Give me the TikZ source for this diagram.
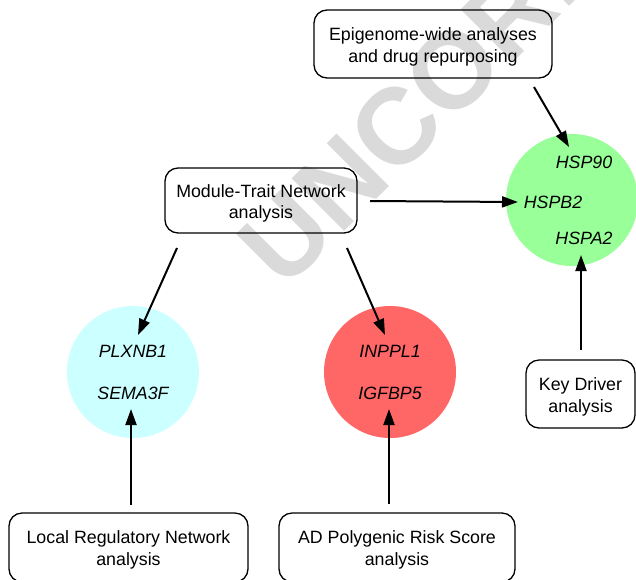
\documentclass[tikz,border=0pt]{standalone}
\usepackage{fontspec}
\setmainfont{Liberation Sans}
\usetikzlibrary{arrows.meta}
\definecolor{wmgray}{RGB}{218,218,218}
\definecolor{cyanfill}{RGB}{204,255,255}
\definecolor{redfill}{RGB}{255,102,102}
\definecolor{greenfill}{RGB}{153,255,153}
\tikzset{
  every node/.style={font=\fontsize{17.8}{21.5}\selectfont},
  infobox/.style={draw=black, line width=1.3pt, rounded corners=13pt, inner sep=0pt},
  boxtext/.style={align=center, inner sep=0pt},
  gene/.style={inner sep=0pt, font=\fontsize{17.8}{21.5}\selectfont\itshape},
  hub/.style={circle, draw=none, minimum size=132pt, inner sep=0pt},
  arr/.style={line width=2pt, -{Triangle[length=16pt,width=11pt]}},
}
\begin{document}
\begin{tikzpicture}[x=1pt, y=-1pt]
\useasboundingbox (0,0) rectangle (636,579);
\clip (0,0) rectangle (636,579);
\fill[white] (0,0) rectangle (636,579);

% background stamp
\node[rotate=45, anchor=base west, inner sep=0pt, text=wmgray,
      font=\fontsize{108}{108}\selectfont\bfseries] (stamp) at (284,292) {UNCORRECTED};

% gene clusters
\node[hub, fill=cyanfill]  (cyanhub)  at (133,372) {};
\node[hub, fill=redfill]   (redhub)   at (390,372) {};
\node[hub, fill=greenfill] (greenhub) at (572,200) {};

\node[gene] (plx)  at (133,351) {PLXNB1};
\node[gene] (sema) at (133,393) {SEMA3F};
\node[gene] (inp)  at (390,351) {INPPL1};
\node[gene] (igf)  at (390,393) {IGFBP5};
\node[gene] (hsp90) at (584,162) {HSP90};
\node[gene] (hspb2) at (553,202) {HSPB2};
\node[gene] (hspa2) at (584,238) {HSPA2};

% analysis boxes and their captions
\node[infobox, minimum width=238pt, minimum height=68pt] (epi) at (433,44) {};
\node[infobox, minimum width=192pt, minimum height=65pt] (mod) at (261,200.5) {};
\node[infobox, minimum width=109pt, minimum height=68pt] (kd) at (580.5,394) {};
\node[infobox, minimum width=239pt, minimum height=69pt] (lrn) at (128.5,547.5) {};
\node[infobox, minimum width=236pt, minimum height=69pt] (ad) at (397,547.5) {};

\node[boxtext] (epitext) at ([yshift=-3pt]epi.center) {Epigenome-wide analyses\\and drug repurposing};
\node[boxtext] (modtext) at ([yshift=-3pt]mod.center) {Module-Trait Network\\analysis};
\node[boxtext] (kdtext)  at ([yshift=-3pt]kd.center)  {Key Driver\\analysis};
\node[boxtext] (lrntext) at ([yshift=-2.5pt]lrn.center) {Local Regulatory Network\\analysis};
\node[boxtext] (adtext)  at ([yshift=-2.5pt]ad.center)  {AD Polygenic Risk Score\\analysis};

% connectors
\draw[arr] ([shift={(101,43)}]epi.center)   -- ([shift={(-15,-15)}]hsp90.center);
\draw[arr] ([shift={(109,0.5)}]mod.center)  -- ([shift={(-35,0)}]hspb2.center);
\draw[arr] ([shift={(0.5,-44)}]kd.center)   -- ([shift={(-3,17)}]hspa2.center);
\draw[arr] ([shift={(-84,47.5)}]mod.center) -- ([shift={(5,-16)}]plx.center);
\draw[arr] ([shift={(86,47.5)}]mod.center)  -- ([shift={(-5,-16)}]inp.center);
\draw[arr] ([shift={(2.5,-42.5)}]lrn.center) -- ([shift={(-2,16)}]sema.center);
\draw[arr] ([shift={(-8,-43.5)}]ad.center)  -- ([shift={(-1,16)}]igf.center);
\end{tikzpicture}
\end{document}
